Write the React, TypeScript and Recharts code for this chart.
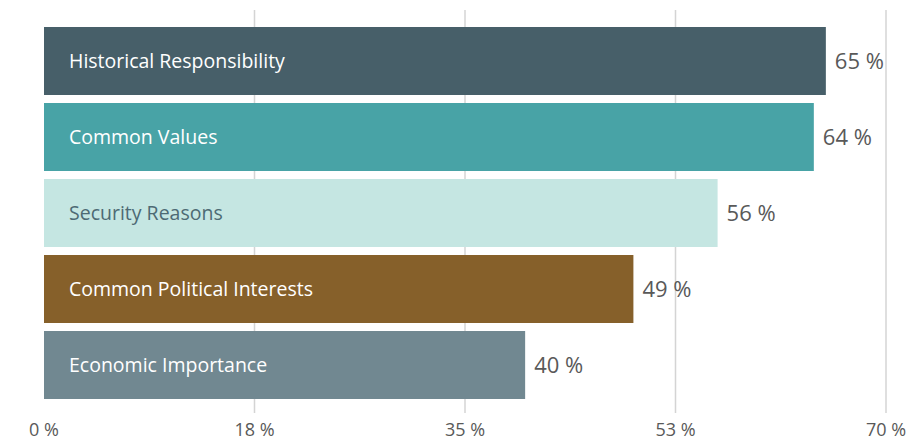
import { BarChart, Bar, XAxis, YAxis, CartesianGrid, Cell, LabelList } from "recharts";

const categories = [
  "Historical Responsibility",
  "Common Values",
  "Security Reasons",
  "Common Political Interests",
  "Economic Importance",
];
const values = [65, 64, 56, 49, 40];
const barColors = ["#475f69", "#48a3a6", "#c5e6e2", "#86602a", "#718891"];
const nameColors = ["#ffffff", "#ffffff", "#4d6a74", "#ffffff", "#ffffff"];
const tickValues = [0, 17.5, 35, 52.5, 70];
const tickLabels = ["0 %", "18 %", "35 %", "53 %", "70 %"];

const data = categories.map((name, i) => ({ name, value: values[i] }));

const FONT = "'Open Sans', sans-serif";

const NameLabel = (props: any) => {
  const { x, y, height, index, value } = props;
  return (
    <text
      x={x + 25}
      y={y + height / 2}
      dy="0.35em"
      fill={nameColors[index]}
      fontSize={19.5}
      fontFamily={FONT}
    >
      {value}
    </text>
  );
};

export default function App() {
  return (
    <div style={{ position: "absolute", left: 0, top: 0, background: "#fff" }}>
      <BarChart
        width={923}
        height={441}
        data={data}
        layout="vertical"
        margin={{ top: 10, right: 37, left: 44, bottom: 0 }}
        barSize={68}
      >
        <CartesianGrid
          horizontal={false}
          stroke="#d4d4d4"
          strokeWidth={1.5}
          verticalCoordinatesGenerator={({ offset }: any) =>
            tickValues
              .filter((v) => v > 0)
              .map((v) => offset.left + (v / 70) * offset.width)
          }
        />
        <XAxis
          type="number"
          domain={[0, 70]}
          ticks={tickValues}
          tickFormatter={(v: number) => tickLabels[tickValues.indexOf(v)]}
          axisLine={false}
          tickLine={false}
          tickSize={0}
          tickMargin={10}
          height={28}
          tick={{ fill: "#595959", fontSize: 18, fontFamily: FONT }}
          interval={0}
        />
        <YAxis
          type="category"
          dataKey="name"
          hide
          width={0}
          padding={{ top: 13, bottom: 10 }}
        />
        <Bar dataKey="value" isAnimationActive={false}>
          {data.map((d, i) => (
            <Cell key={d.name} fill={barColors[i]} />
          ))}
          <LabelList dataKey="name" content={NameLabel} />
          <LabelList
            dataKey="value"
            position="right"
            offset={9}
            formatter={(v: any) => `${v} %`}
            fill="#595959"
            fontSize={22}
            fontFamily={FONT}
          />
        </Bar>
      </BarChart>
    </div>
  );
}
